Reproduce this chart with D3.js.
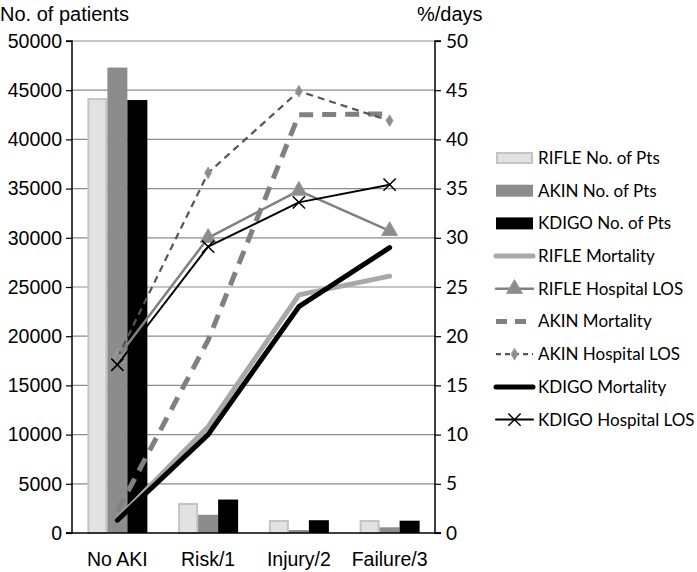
<!DOCTYPE html>
<html><head><meta charset="utf-8">
<script src="https://cdn.jsdelivr.net/npm/d3@7"></script>
<style>body{margin:0;background:#fff}svg{display:block}</style>
</head><body>
<svg id="c" width="697" height="572"></svg>
<script>
const categories = ["No AKI", "Risk/1", "Injury/2", "Failure/3"];
const barSeries = ["RIFLE No. of Pts", "AKIN No. of Pts", "KDIGO No. of Pts"];
const rifleNo = [44200, 3050, 1320, 1320];
const akinNo = [47300, 1850, 300, 580];
const kdigoNo = [44000, 3400, 1300, 1250];
const rifleMort = [1.4, 10.8, 24.2, 26.1];
const rifleLOS = [17.8, 30.0, 34.8, 30.7];
const akinMort = [2.2, 19.6, 42.5, 42.6];
const akinLOS = [17.8, 36.6, 44.9, 41.9];
const kdigoMort = [1.3, 10.0, 23.0, 29.0];
const kdigoLOS = [17.1, 29.1, 33.6, 35.4];
const leftTicks = [0,5000,10000,15000,20000,25000,30000,35000,40000,45000,50000];
const rightTicks = [0,5,10,15,20,25,30,35,40,45,50];

const svg = d3.select("#c");
const L = 72, R = 435, T = 41, B = 533;
const x = d3.scaleBand().domain(categories).range([L, R]).paddingInner(0).paddingOuter(0);
const yL = d3.scaleLinear().domain([0, 50000]).range([B, T]);
const yR = d3.scaleLinear().domain([0, 50]).range([B, T]);
const arial = "'Liberation Sans', Arial, sans-serif";
const calibri = "Lato, 'Open Sans', sans-serif";

// gridlines
svg.append("g").selectAll("line").data(leftTicks.filter(d => d > 0)).join("line")
  .attr("x1", L).attr("x2", R).attr("y1", d => yL(d)).attr("y2", d => yL(d))
  .attr("stroke", "#8c8c8c").attr("stroke-width", 1.2);

// bars
const barData = [rifleNo, akinNo, kdigoNo];
const barFill = ["#e2e2e2", "#8c8c8c", "#000000"];
const barStroke = ["#c4c4c4", "#8c8c8c", "#000000"];
const bw = 20;
const xb = d3.scaleBand().domain(barSeries).range([0, bw * 3]);
barData.forEach((vals, s) => {
  svg.append("g").selectAll("rect").data(vals).join("rect")
    .attr("x", (d, i) => x(categories[i]) + x.bandwidth() / 2 - bw * 1.5 + xb(barSeries[s]) + (s === 0 ? 1 : 0))
    .attr("y", d => yL(d) + (s === 0 ? 1 : 0))
    .attr("width", bw - (s === 0 ? 2 : 0))
    .attr("height", d => B - yL(d) - (s === 0 ? 1 : 0))
    .attr("fill", barFill[s]).attr("stroke", barStroke[s]).attr("stroke-width", s === 0 ? 2 : 0);
});

// axes
const axL = svg.append("g").attr("transform", `translate(${L},0)`)
  .call(d3.axisLeft(yL).tickValues(leftTicks).tickSize(6).tickFormat(d3.format("d")));
axL.select(".domain").attr("stroke", "#000").attr("stroke-width", 1.5).attr("d", `M-6,${T}H0V${B}H-6`);
axL.selectAll(".tick line").attr("stroke", "#000").attr("stroke-width", 1.2);
axL.selectAll(".tick text").attr("font-family", arial).attr("font-size", 19.5).attr("fill", "#000").attr("x", -10);

const axR = svg.append("g").attr("transform", `translate(${R},0)`)
  .call(d3.axisRight(yR).tickValues(rightTicks).tickSize(6));
axR.select(".domain").attr("stroke", "#000").attr("stroke-width", 1.5).attr("d", `M6,${T}H0V${B}H6`);
axR.selectAll(".tick line").attr("stroke", "#000").attr("stroke-width", 1.2);
axR.selectAll(".tick text").attr("font-family", calibri).attr("font-size", 19).attr("fill", "#000").attr("x", 11);

// bottom axis line
svg.append("line").attr("x1", L - 6).attr("x2", R + 6).attr("y1", B).attr("y2", B)
  .attr("stroke", "#000").attr("stroke-width", 1.5);
svg.append("g").selectAll("text").data(categories).join("text")
  .attr("x", d => x(d) + x.bandwidth() / 2).attr("y", 566)
  .attr("text-anchor", "middle").attr("font-family", arial).attr("font-size", 19.5).text(d => d);

svg.append("text").attr("x", 0).attr("y", 21).attr("font-family", arial).attr("font-size", 20).text("No. of patients");
svg.append("text").attr("x", 417).attr("y", 21).attr("font-family", arial).attr("font-size", 20).text("%/days");

// lines
const cx = i => x(categories[i]) + x.bandwidth() / 2;
const line = d3.line().x((d, i) => cx(i)).y(d => yR(d));
const lineSeries = [
  {name: "RIFLE Mortality", vals: rifleMort, color: "#a8a8a8", w: 5, dash: null, marker: null},
  {name: "RIFLE Hospital LOS", vals: rifleLOS, color: "#808080", w: 2.5, dash: null, marker: "tri"},
  {name: "AKIN Mortality", vals: akinMort, color: "#808080", w: 5, dash: "14,9", marker: null},
  {name: "AKIN Hospital LOS", vals: akinLOS, color: "#555555", w: 2.2, dash: "7,5", marker: "dia"},
  {name: "KDIGO Mortality", vals: kdigoMort, color: "#000000", w: 5, dash: null, marker: null},
  {name: "KDIGO Hospital LOS", vals: kdigoLOS, color: "#000000", w: 2, dash: null, marker: "x"}
];
function drawMarker(g, type, px, py) {
  if (type === "tri") {
    g.append("path").attr("d", d3.symbol(d3.symbolTriangle, 110)()).attr("transform", `translate(${px},${py})`)
      .attr("fill", "#8c8c8c").attr("stroke", "#9a9a9a").attr("stroke-width", 1);
  } else if (type === "dia") {
    g.append("path").attr("d", d3.symbol(d3.symbolDiamond, 40)()).attr("transform", `translate(${px},${py})`)
      .attr("fill", "#8c8c8c").attr("stroke", "#a0a0a0").attr("stroke-width", 1);
  } else if (type === "x") {
    g.append("path").attr("d", d3.symbol(d3.symbolX, 100)()).attr("transform", `translate(${px},${py})`)
      .attr("fill", "#000").attr("stroke", "#000").attr("stroke-width", 1.5);
  }
}
lineSeries.forEach(s => {
  const g = svg.append("g");
  g.append("path").attr("d", line(s.vals)).attr("fill", "none").attr("stroke", s.color)
    .attr("stroke-width", s.w).attr("stroke-dasharray", s.dash).attr("stroke-linejoin", "round").attr("stroke-linecap", s.dash ? "butt" : "round");
  if (s.marker) s.vals.forEach((v, i) => drawMarker(g, s.marker, cx(i), yR(v)));
});

// legend
const leg = svg.append("g");
const ly0 = 158, lstep = 32.7, lx0 = 496, lx1 = 533, ltx = 538;
barSeries.forEach((n, i) => {
  const yy = ly0 + i * lstep;
  leg.append("rect").attr("x", lx0 + (i === 0 ? 1 : 0)).attr("y", yy - 6 + (i === 0 ? 1 : 0))
    .attr("width", lx1 - lx0 - (i === 0 ? 2 : 0)).attr("height", 12 - (i === 0 ? 2 : 0))
    .attr("fill", barFill[i]).attr("stroke", barStroke[i]).attr("stroke-width", i === 0 ? 2 : 0);
  leg.append("text").attr("x", ltx).attr("y", yy).attr("dy", "0.35em").attr("font-family", calibri).attr("font-size", 17).text(n);
});
lineSeries.forEach((s, j) => {
  const yy = ly0 + (j + 3) * lstep;
  leg.append("line").attr("x1", lx0).attr("x2", lx1).attr("y1", yy).attr("y2", yy)
    .attr("stroke", s.color).attr("stroke-width", s.w).attr("stroke-dasharray", s.dash ? (s.w > 3 ? "11,8" : "5,4") : null)
    .attr("stroke-linecap", s.dash ? "butt" : "round");
  if (s.marker) drawMarker(leg, s.marker, (lx0 + lx1) / 2, yy);
  leg.append("text").attr("x", ltx).attr("y", yy).attr("dy", "0.35em").attr("font-family", calibri).attr("font-size", 17).text(s.name);
});
</script>
</body></html>
